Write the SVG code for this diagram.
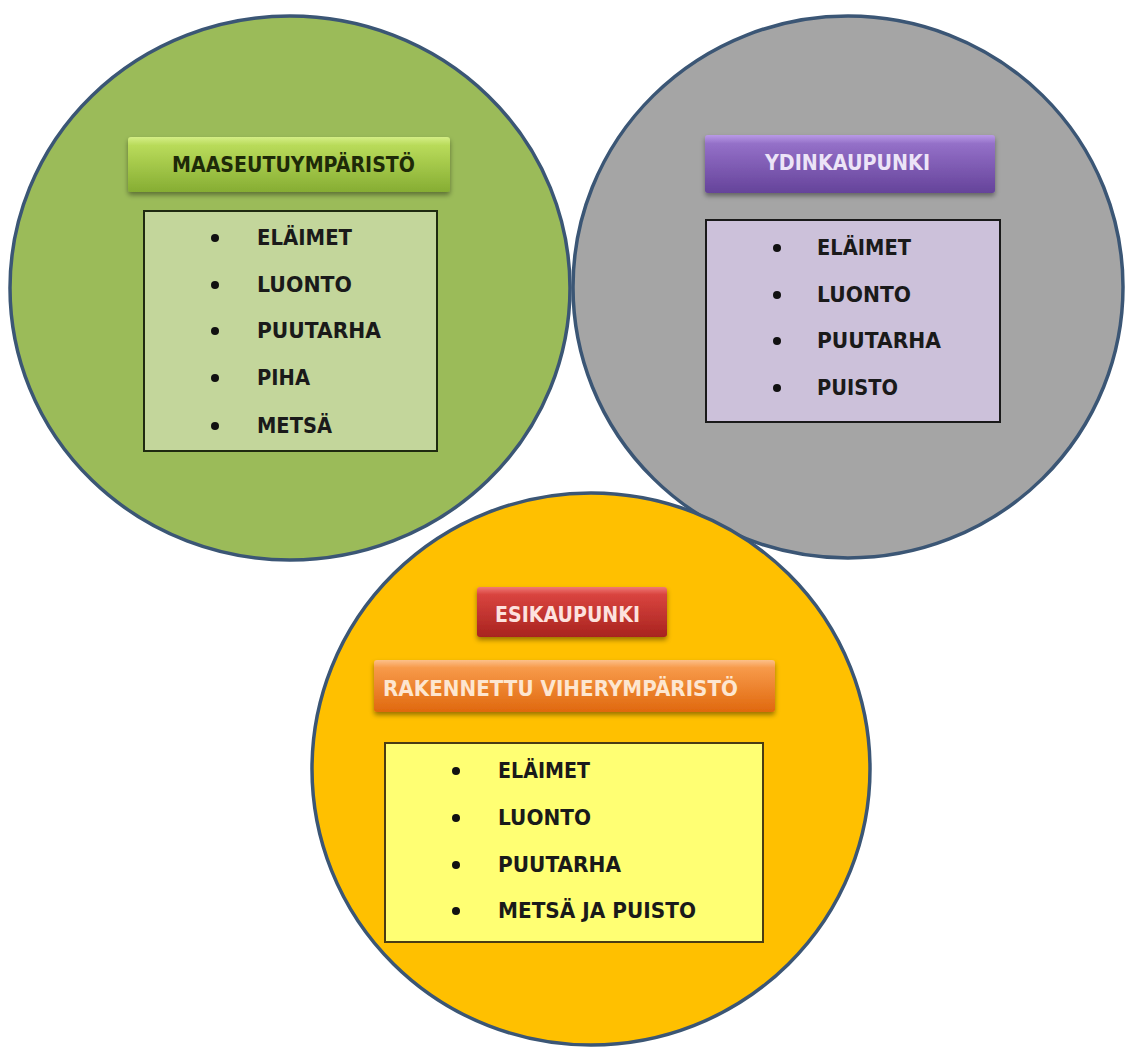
<svg xmlns="http://www.w3.org/2000/svg" width="1125" height="1049" viewBox="0 0 1125 1049">
  <defs>
    <linearGradient id="gGreen" x1="0" y1="0" x2="0" y2="1">
      <stop offset="0" stop-color="#d4ee86"/>
      <stop offset="0.15" stop-color="#b9db5a"/>
      <stop offset="1" stop-color="#86ad33"/>
    </linearGradient>
    <linearGradient id="gPurple" x1="0" y1="0" x2="0" y2="1">
      <stop offset="0" stop-color="#b99ae6"/>
      <stop offset="0.15" stop-color="#9470c8"/>
      <stop offset="1" stop-color="#65439a"/>
    </linearGradient>
    <linearGradient id="gRed" x1="0" y1="0" x2="0" y2="1">
      <stop offset="0" stop-color="#f07a76"/>
      <stop offset="0.15" stop-color="#d9443f"/>
      <stop offset="1" stop-color="#a8231f"/>
    </linearGradient>
    <linearGradient id="gOrange" x1="0" y1="0" x2="0" y2="1">
      <stop offset="0" stop-color="#fcc08a"/>
      <stop offset="0.15" stop-color="#f79a4a"/>
      <stop offset="1" stop-color="#e0680e"/>
    </linearGradient>
    <filter id="shadow" x="-10%" y="-30%" width="120%" height="170%">
      <feDropShadow dx="0" dy="3" stdDeviation="2.5" flood-color="#000" flood-opacity="0.4"/>
    </filter>
  </defs>
  <style>
    .ring { stroke: #3b5675; stroke-width: 3.5; }
    .title { stroke: none; filter: url(#shadow); }
    .list { stroke-width: 2; }
    .t { font-family: "DejaVu Sans", "Liberation Sans", sans-serif; font-weight: bold; font-size: 22px; }
    .item { fill: #1a1a1a; }
    .dot { fill: #111; }
  </style>

  <rect width="1125" height="1049" fill="#ffffff"/>

  <!-- Rural environment -->
  <g id="maaseutu">
    <ellipse class="ring" cx="290" cy="288" rx="280" ry="272" fill="#9bbb59"/>
    <rect class="title" x="128" y="137" width="322" height="55" rx="3" fill="url(#gGreen)"/>
    <text class="t" x="172" y="172" fill="#1e2a08" textLength="243" lengthAdjust="spacingAndGlyphs">MAASEUTUYMPÄRISTÖ</text>
    <rect class="list" x="144" y="211" width="293" height="240" fill="#c3d69b" stroke="#1f2a10"/>
    <g class="dot">
      <circle cx="215" cy="238" r="4"/>
      <circle cx="215" cy="285" r="4"/>
      <circle cx="215" cy="331" r="4"/>
      <circle cx="215" cy="378" r="4"/>
      <circle cx="215" cy="426" r="4"/>
    </g>
    <g class="t item">
      <text x="257" y="245" textLength="95" lengthAdjust="spacingAndGlyphs">ELÄIMET</text>
      <text x="257" y="292" textLength="95" lengthAdjust="spacingAndGlyphs">LUONTO</text>
      <text x="257" y="338" textLength="124" lengthAdjust="spacingAndGlyphs">PUUTARHA</text>
      <text x="257" y="385" textLength="53" lengthAdjust="spacingAndGlyphs">PIHA</text>
      <text x="257" y="433" textLength="75" lengthAdjust="spacingAndGlyphs">METSÄ</text>
    </g>
  </g>

  <!-- Core city -->
  <g id="ydinkaupunki">
    <ellipse class="ring" cx="848" cy="287" rx="275" ry="271" fill="#a5a5a5"/>
    <rect class="title" x="705" y="135" width="290" height="58" rx="3" fill="url(#gPurple)"/>
    <text class="t" x="765" y="170" fill="#ece4f7" textLength="165" lengthAdjust="spacingAndGlyphs">YDINKAUPUNKI</text>
    <rect class="list" x="706" y="220" width="294" height="202" fill="#ccc1da" stroke="#1a1a1a"/>
    <g class="dot">
      <circle cx="777" cy="248" r="4"/>
      <circle cx="777" cy="295" r="4"/>
      <circle cx="777" cy="341" r="4"/>
      <circle cx="777" cy="388" r="4"/>
    </g>
    <g class="t item">
      <text x="817" y="255" textLength="94" lengthAdjust="spacingAndGlyphs">ELÄIMET</text>
      <text x="817" y="302" textLength="94" lengthAdjust="spacingAndGlyphs">LUONTO</text>
      <text x="817" y="348" textLength="124" lengthAdjust="spacingAndGlyphs">PUUTARHA</text>
      <text x="817" y="395" textLength="81" lengthAdjust="spacingAndGlyphs">PUISTO</text>
    </g>
  </g>

  <!-- Suburb -->
  <g id="esikaupunki">
    <ellipse class="ring" cx="591" cy="769" rx="279" ry="276" fill="#ffc000"/>
    <rect class="title" x="477" y="587" width="190" height="50" rx="3" fill="url(#gRed)"/>
    <text class="t" x="495" y="622" fill="#fde2de" textLength="145" lengthAdjust="spacingAndGlyphs">ESIKAUPUNKI</text>
    <rect class="title" x="374" y="660" width="401" height="52" rx="3" fill="url(#gOrange)"/>
    <text class="t" x="383" y="696" fill="#fde6d0" textLength="355" lengthAdjust="spacingAndGlyphs">RAKENNETTU VIHERYMPÄRISTÖ</text>
    <rect class="list" x="385" y="743" width="378" height="199" fill="#ffff73" stroke="#4a3c14"/>
    <g class="dot">
      <circle cx="456" cy="771" r="4"/>
      <circle cx="456" cy="818" r="4"/>
      <circle cx="456" cy="865" r="4"/>
      <circle cx="456" cy="911" r="4"/>
    </g>
    <g class="t item">
      <text x="498" y="778" textLength="92" lengthAdjust="spacingAndGlyphs">ELÄIMET</text>
      <text x="498" y="825" textLength="93" lengthAdjust="spacingAndGlyphs">LUONTO</text>
      <text x="498" y="872" textLength="123" lengthAdjust="spacingAndGlyphs">PUUTARHA</text>
      <text x="498" y="918" textLength="198" lengthAdjust="spacingAndGlyphs">METSÄ JA PUISTO</text>
    </g>
  </g>

  <g id="connectors"/>
</svg>
